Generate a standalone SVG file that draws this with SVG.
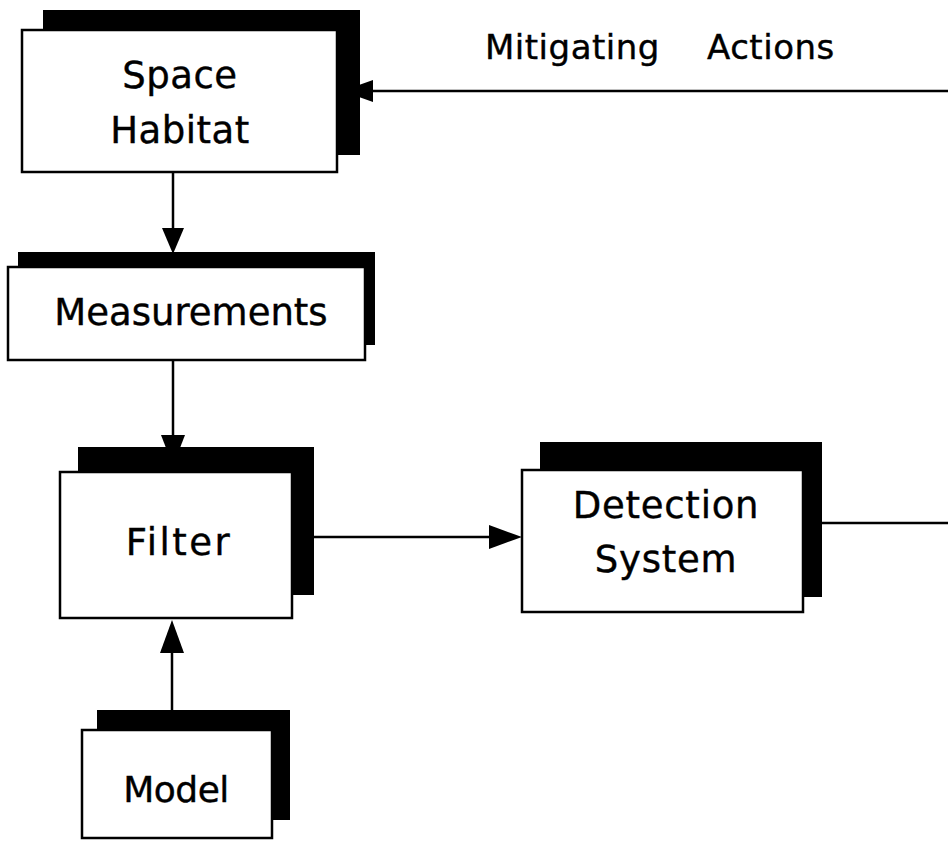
<svg xmlns="http://www.w3.org/2000/svg" width="948" height="842" viewBox="0 0 948 842">
  <style>
    .shadow { fill: #000; }
    .box { fill: #fff; stroke: #000; stroke-width: 2.5; }
    .lbl { font-family: "DejaVu Sans", Verdana, sans-serif; font-size: 37px; fill: #000; stroke: #000; stroke-width: 0.4; text-anchor: middle; }
    .note { font-family: "DejaVu Sans", Verdana, sans-serif; font-size: 34px; fill: #000; stroke: #000; stroke-width: 0.4; text-anchor: start; letter-spacing: 0.5px; }
    .wire { stroke: #000; stroke-width: 2.5; fill: none; }
    .head { fill: #000; }
  </style>
  <rect width="948" height="842" fill="#fff"/>

  <g id="connectors">
    <!-- mitigating actions feedback into the habitat -->
    <line class="wire" x1="948" y1="91" x2="370" y2="91"/>
    <polygon class="head" points="342,91 373,80 373,102"/>
    <text class="note"><tspan x="485" y="59">Mitigating</tspan><tspan x="707" y="59">Actions</tspan></text>
    <!-- habitat to measurements -->
    <line class="wire" x1="173" y1="172" x2="173" y2="230"/>
    <polygon class="head" points="173,254 162,228 184,228"/>
    <!-- measurements to filter -->
    <line class="wire" x1="173" y1="360" x2="173" y2="437"/>
    <polygon class="head" points="173,466 161,435 185,435"/>
    <!-- model to filter -->
    <line class="wire" x1="172" y1="710" x2="172" y2="650"/>
    <polygon class="head" points="172,620 160,653 184,653"/>
    <!-- filter to detection system -->
    <line class="wire" x1="314" y1="537" x2="492" y2="537"/>
    <polygon class="head" points="522,537 489,525 489,549"/>
    <!-- detection system output -->
    <line class="wire" x1="822" y1="523" x2="948" y2="523"/>
  </g>

  <g id="space-habitat">
    <rect class="shadow" x="43" y="10" width="317" height="145"/>
    <rect class="box" x="22" y="30" width="315" height="142"/>
    <text class="lbl" style="letter-spacing:0.5px"><tspan x="180" y="88">Space</tspan><tspan x="180" y="143">Habitat</tspan></text>
  </g>

  <g id="measurements">
    <rect class="shadow" x="18" y="252" width="357" height="93"/>
    <rect class="box" x="8" y="267" width="357" height="93"/>
    <text class="lbl" x="191" y="325">Measurements</text>
  </g>

  <g id="filter">
    <rect class="shadow" x="78" y="447" width="236" height="148"/>
    <rect class="box" x="60" y="472" width="232" height="146"/>
    <text class="lbl" x="179" y="555" style="letter-spacing:2.5px">Filter</text>
  </g>

  <g id="detection-system">
    <rect class="shadow" x="540" y="442" width="282" height="155"/>
    <rect class="box" x="522" y="470" width="281" height="142"/>
    <text class="lbl" style="letter-spacing:0.75px"><tspan x="666" y="518">Detection</tspan><tspan x="666" y="572">System</tspan></text>
  </g>

  <g id="model">
    <rect class="shadow" x="97" y="710" width="193" height="110"/>
    <rect class="box" x="82" y="730" width="190" height="108"/>
    <text class="lbl" x="176" y="802" style="font-size:36px;letter-spacing:-0.5px">Model</text>
  </g>
</svg>
